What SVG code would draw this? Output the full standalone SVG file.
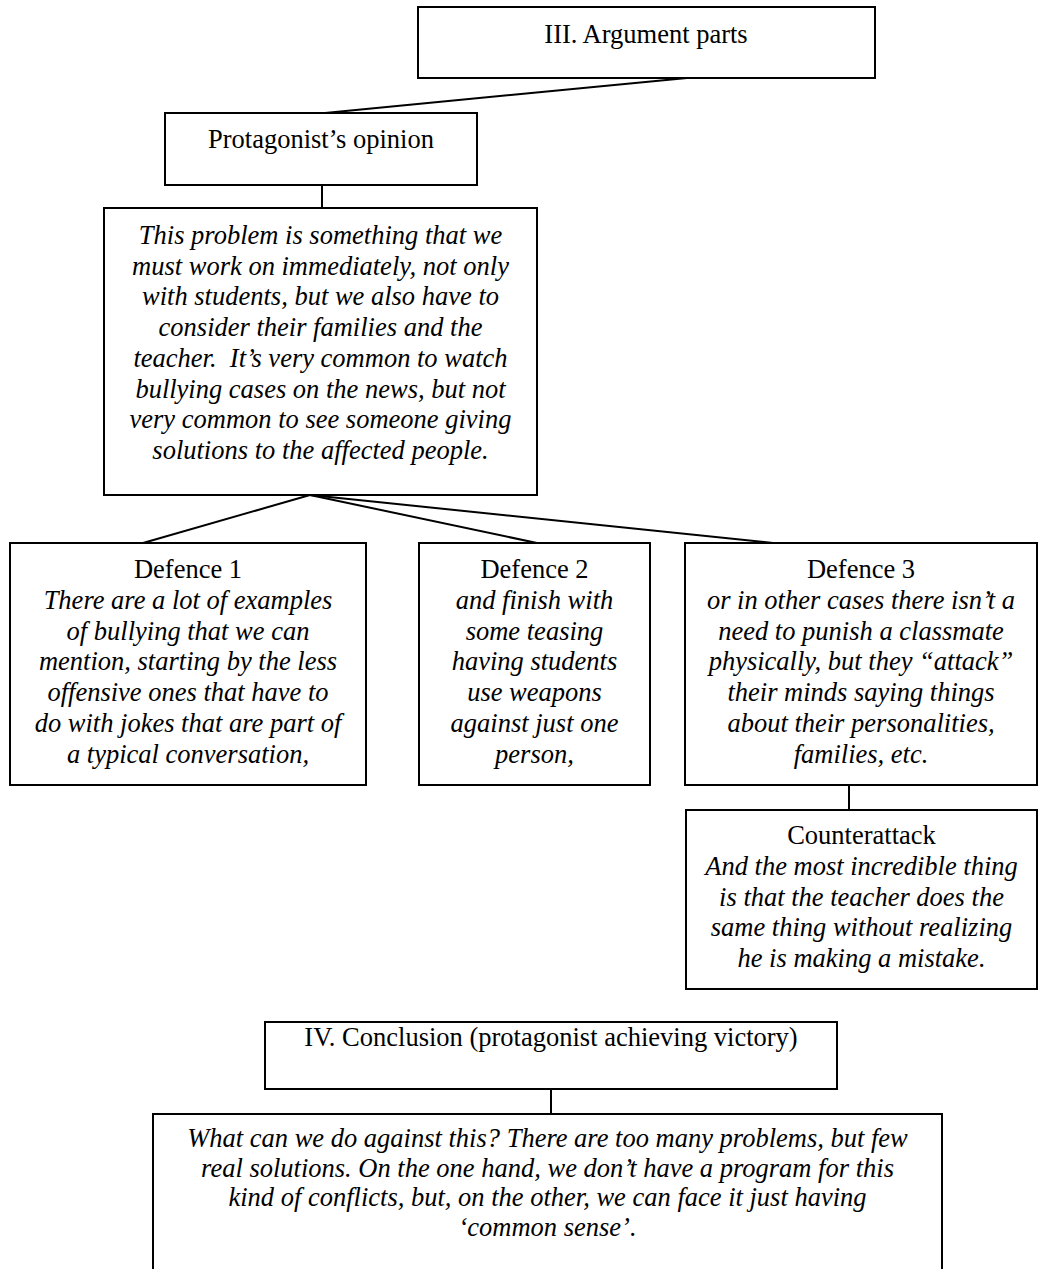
<svg xmlns="http://www.w3.org/2000/svg" width="1039" height="1269" viewBox="0 0 1039 1269">
  <style>
    .box { fill: #fff; stroke: #000; stroke-width: 2; }
    .link { fill: none; stroke: #000; stroke-width: 2; }
    text { font-family: "Liberation Serif", "Times New Roman", serif; font-size: 26.5px; fill: #000; text-anchor: middle; }
    .it { font-style: italic; }
  </style>
  <rect width="1039" height="1269" fill="#fff"/>

  <!-- connectors between parts -->
  <g id="connectors">
    <line class="link" x1="687" y1="78" x2="325" y2="113"/>
    <line class="link" x1="322" y1="185" x2="322" y2="208"/>
    <line class="link" x1="310" y1="495" x2="143" y2="543"/>
    <line class="link" x1="310" y1="495" x2="537" y2="543"/>
    <line class="link" x1="310" y1="495" x2="773" y2="543"/>
    <line class="link" x1="849" y1="785" x2="849" y2="810"/>
    <line class="link" x1="551" y1="1089" x2="551" y2="1114"/>
  </g>

  <g id="argument-parts">
    <rect class="box" x="418" y="7" width="457" height="71"/>
    <text x="646" y="43">III. Argument parts</text>
  </g>

  <g id="opinion-title">
    <rect class="box" x="165" y="113" width="312" height="72"/>
    <text x="321" y="148">Protagonist’s opinion</text>
  </g>

  <g id="opinion-text">
    <rect class="box" x="104" y="208" width="433" height="287"/>
    <text class="it" x="320.5" y="244">This problem is something that we</text>
    <text class="it" x="320.5" y="274.7">must work on immediately, not only</text>
    <text class="it" x="320.5" y="305.4">with students, but we also have to</text>
    <text class="it" x="320.5" y="336.1">consider their families and the</text>
    <text class="it" x="320.5" y="366.8" xml:space="preserve">teacher.  It’s very common to watch</text>
    <text class="it" x="320.5" y="397.5">bullying cases on the news, but not</text>
    <text class="it" x="320.5" y="428.2">very common to see someone giving</text>
    <text class="it" x="320.5" y="458.9">solutions to the affected people.</text>
  </g>

  <g id="defence-1">
    <rect class="box" x="10" y="543" width="356" height="242"/>
    <text x="188" y="578">Defence 1</text>
    <text class="it" x="188" y="608.8">There are a lot of examples</text>
    <text class="it" x="188" y="639.6">of bullying that we can</text>
    <text class="it" x="188" y="670.4">mention, starting by the less</text>
    <text class="it" x="188" y="701.2">offensive ones that have to</text>
    <text class="it" x="188" y="732">do with jokes that are part of</text>
    <text class="it" x="188" y="762.8">a typical conversation,</text>
  </g>

  <g id="defence-2">
    <rect class="box" x="419" y="543" width="231" height="242"/>
    <text x="534.5" y="578">Defence 2</text>
    <text class="it" x="534.5" y="608.8">and finish with</text>
    <text class="it" x="534.5" y="639.6">some teasing</text>
    <text class="it" x="534.5" y="670.4">having students</text>
    <text class="it" x="534.5" y="701.2">use weapons</text>
    <text class="it" x="534.5" y="732">against just one</text>
    <text class="it" x="534.5" y="762.8">person,</text>
  </g>

  <g id="defence-3">
    <rect class="box" x="685" y="543" width="352" height="242"/>
    <text x="861" y="578">Defence 3</text>
    <text class="it" x="861" y="608.8">or in other cases there isn’t a</text>
    <text class="it" x="861" y="639.6">need to punish a classmate</text>
    <text class="it" x="861" y="670.4">physically, but they “attack”</text>
    <text class="it" x="861" y="701.2">their minds saying things</text>
    <text class="it" x="861" y="732">about their personalities,</text>
    <text class="it" x="861" y="762.8">families, etc.</text>
  </g>

  <g id="counterattack">
    <rect class="box" x="686" y="810" width="351" height="179"/>
    <text x="861.5" y="844">Counterattack</text>
    <text class="it" x="861.5" y="874.8">And the most incredible thing</text>
    <text class="it" x="861.5" y="905.6">is that the teacher does the</text>
    <text class="it" x="861.5" y="936.4">same thing without realizing</text>
    <text class="it" x="861.5" y="967.2">he is making a mistake.</text>
  </g>

  <g id="conclusion-title">
    <rect class="box" x="265" y="1022" width="572" height="67"/>
    <text x="551" y="1046">IV. Conclusion (protagonist achieving victory)</text>
  </g>

  <g id="conclusion-text">
    <rect class="box" x="153" y="1114" width="789" height="180"/>
    <text class="it" x="547.5" y="1147">What can we do against this? There are too many problems, but few</text>
    <text class="it" x="547.5" y="1176.5">real solutions. On the one hand, we don’t have a program for this</text>
    <text class="it" x="547.5" y="1206">kind of conflicts, but, on the other, we can face it just having</text>
    <text class="it" x="547.5" y="1235.5">‘common sense’.</text>
  </g>
</svg>
